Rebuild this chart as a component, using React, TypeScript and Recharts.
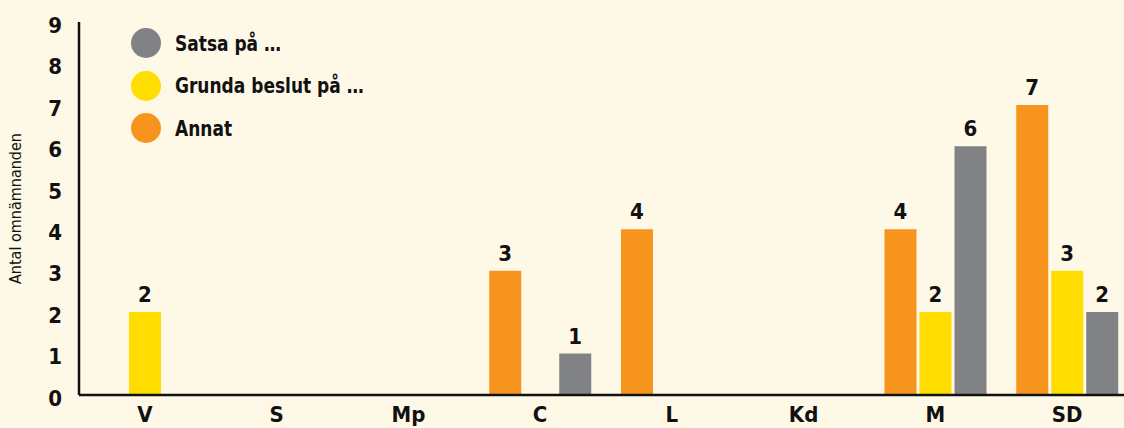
import React from 'react';
import { BarChart, Bar, XAxis, YAxis, Legend, LabelList, Label } from 'recharts';

const parties = ['V', 'S', 'Mp', 'C', 'L', 'Kd', 'M', 'SD'];
const annat = [0, 0, 0, 3, 4, 0, 4, 7];
const grunda = [2, 0, 0, 0, 0, 0, 2, 3];
const satsa = [0, 0, 0, 1, 0, 0, 6, 2];
const yTicks = [0, 1, 2, 3, 4, 5, 6, 7, 8, 9];

const FONT = "'Liberation Sans Narrow', 'DejaVu Sans Condensed', 'Roboto', sans-serif";
const BG = '#FEF8E7';

const series = [
  { key: 'annat', name: 'Annat', color: '#F7941D' },
  { key: 'grunda', name: 'Grunda beslut på …', color: '#FFDD00' },
  { key: 'satsa', name: 'Satsa på …', color: '#808285' },
];

const legendOrder = ['satsa', 'grunda', 'annat'];

const data = parties.map((p, i) => ({
  party: p,
  annat: annat[i],
  grunda: grunda[i],
  satsa: satsa[i],
}));

const tickStyle = { fontFamily: FONT, fontWeight: 700, fontSize: 22, fill: '#111' };

function LegendBox() {
  return (
    <div style={{ fontFamily: FONT }}>
      {legendOrder.map((k) => {
        const s = series.find((x) => x.key === k)!;
        return (
          <div key={k} style={{ display: 'flex', alignItems: 'center', height: 42.5 }}>
            <span
              style={{
                display: 'inline-block',
                width: 30,
                height: 30,
                borderRadius: '50%',
                background: s.color,
                marginRight: 14,
                flexShrink: 0,
              }}
            />
            <span
              style={{
                fontSize: 22,
                fontWeight: 700,
                color: '#111',
                display: 'inline-block',
                transform: 'scaleX(0.86)',
                transformOrigin: 'left center',
                whiteSpace: 'nowrap',
              }}
            >
              {s.name}
            </span>
          </div>
        );
      })}
    </div>
  );
}

export default function App() {
  return (
    <div
      style={{
        position: 'fixed',
        left: 0,
        top: 0,
        width: 1124,
        height: 428,
        overflow: 'hidden',
        background: BG,
      }}
    >
      <BarChart
        width={1133}
        height={428}
        data={data}
        margin={{ top: 22, right: 0, left: 0, bottom: 0 }}
        barGap={3}
        barCategoryGap={15}
      >
        <XAxis
          dataKey="party"
          height={33}
          tickLine={false}
          tickSize={0}
          tickMargin={11}
          axisLine={{ stroke: '#111', strokeWidth: 2.5 }}
          tick={tickStyle}
          interval={0}
        />
        <YAxis
          width={79}
          domain={[0, 9]}
          ticks={yTicks}
          interval={0}
          tickLine={false}
          tickSize={0}
          tickMargin={17}
          axisLine={{ stroke: '#111', strokeWidth: 2.5 }}
          tick={{ ...tickStyle, dy: 3 }}
        >
          <Label
            value="Antal omnämnanden"
            angle={-90}
            position="insideLeft"
            offset={15}
            dy={0}
            style={{ fontFamily: FONT, fontSize: 16, fill: '#111', textAnchor: 'middle' }}
          />
        </YAxis>
        <Legend
          layout="vertical"
          align="center"
          verticalAlign="middle"
          wrapperStyle={{ left: 131, top: 22, width: 300 }}
          content={() => <LegendBox />}
        />
        {series.map((s) => (
          <Bar key={s.key} dataKey={s.key} name={s.name} fill={s.color} barSize={32} isAnimationActive={false}>
            <LabelList
              dataKey={s.key}
              position="top"
              offset={10}
              formatter={(v: any) => (v ? v : '')}
              style={{ fontFamily: FONT, fontWeight: 700, fontSize: 22, fill: '#111' }}
            />
          </Bar>
        ))}
      </BarChart>
    </div>
  );
}
